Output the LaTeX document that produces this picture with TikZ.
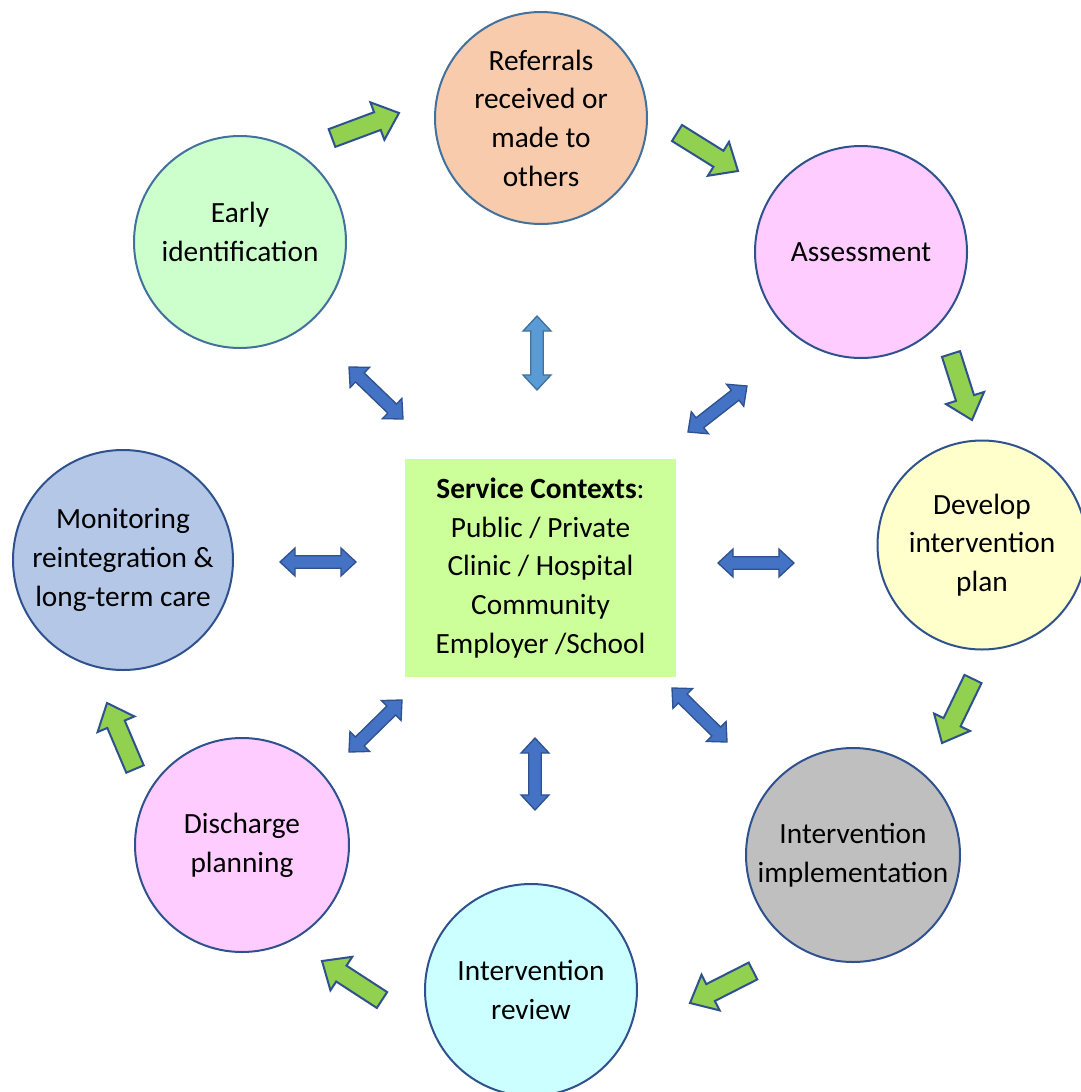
\documentclass[tikz,border=0pt]{standalone}
\usepackage{fontspec}
\setmainfont{Carlito}
\usetikzlibrary{calc}
\definecolor{cgreen}{HTML}{CCFFCC}
\definecolor{cpeach}{HTML}{F8CBAD}
\definecolor{cpink}{HTML}{FFCCFF}
\definecolor{cyellow}{HTML}{FFFFCC}
\definecolor{cgray}{HTML}{BFBFBF}
\definecolor{ccyan}{HTML}{CCFFFF}
\definecolor{cblue}{HTML}{B4C7E7}
\definecolor{cbox}{HTML}{CCFF99}
\definecolor{darkline}{HTML}{2F528F}
\definecolor{midline}{HTML}{41719C}
\definecolor{arrgreen}{HTML}{92D050}
\definecolor{arrblue}{HTML}{4472C4}
\definecolor{arrlight}{HTML}{5B9BD5}
\newcommand\blockone[6]{%
  \coordinate (bh) at ($(#3)!#6!(#2)$);
  \draw[#1] ($(#2)!#4!90:(#3)$) -- ($(bh)!#4!-90:(#2)$) -- ($(bh)!#5!-90:(#2)$) -- (#3)
    -- ($(bh)!#5!90:(#2)$) -- ($(bh)!#4!90:(#2)$) -- ($(#2)!#4!-90:(#3)$) -- cycle;}
\newcommand\blocktwo[6]{%
  \coordinate (ba) at ($(#2)!#6!(#3)$);
  \coordinate (bb) at ($(#3)!#6!(#2)$);
  \draw[#1] (#2) -- ($(ba)!#5!90:(#3)$) -- ($(ba)!#4!90:(#3)$) -- ($(bb)!#4!-90:(#2)$)
    -- ($(bb)!#5!-90:(#2)$) -- (#3) -- ($(bb)!#5!90:(#2)$) -- ($(bb)!#4!90:(#2)$)
    -- ($(ba)!#4!-90:(#3)$) -- ($(ba)!#5!-90:(#3)$) -- cycle;}
\newcommand\garrow[2]{\blockone{greenarr}{#1}{#2}{7.1pt}{15pt}{17.3pt}}
\newcommand\barrow[2]{\blocktwo{bluearr}{#1}{#2}{4.7pt}{10.5pt}{11.3pt}}
\begin{document}
\begin{tikzpicture}[x=0.75pt,y=-0.75pt,
  stage/.style={circle,draw=darkline,line width=1.5pt,minimum size=#1*1.5pt,inner sep=0pt,align=center,
    font=\fontsize{22}{29}\selectfont},
  ctx/.style={fill=cbox,minimum width=203pt,minimum height=163.5pt,align=center,
    font=\fontsize{22}{29}\selectfont},
  greenarr/.style={fill=arrgreen,draw=darkline,line width=1.5pt,line join=miter},
  bluearr/.style={fill=arrblue,draw=darkline,line width=1pt,line join=miter},
  lightarr/.style={fill=arrlight,draw=midline,line width=1pt,line join=miter}]
\useasboundingbox[fill=white] (0,0) rectangle (1081,1092);
\node[stage=106,fill=cgreen,draw=midline] (early) at (240,242) {Early\\identification\\[-14pt]\mbox{}};
\node[stage=106,fill=cpeach,draw=midline] (ref) at (541,118) {Referrals\\received or\\made to\\others};
\node[stage=106,fill=cpink] (assess) at (861,252) {Assessment};
\node[stage=104.5,fill=cyellow] (plan) at (982,545) {Develop\\intervention\\plan};
\node[stage=107,fill=cgray] (impl) at (853,855) {Intervention\\implementation};
\node[stage=106,fill=ccyan] (review) at (531,990) {Intervention\\review};
\node[stage=107,fill=cpink] (disch) at (242,845) {Discharge\\planning};
\node[stage=110,fill=cblue] (monit) at (123,560) {Monitoring\\reintegration \&\\long-term care};
\node[ctx] (ctxbox) at (540.5,568) {\textbf{Service Contexts}:\\Public / Private\\Clinic / Hospital\\Community\\Employer /School};
% green arrow ends
\coordinate (g1a) at (332,138); \coordinate (g1b) at (399,113);
\coordinate (g2a) at (677,133); \coordinate (g2b) at (738,171);
\coordinate (g3a) at (951,354); \coordinate (g3b) at (972,420);
\coordinate (g4a) at (973,679); \coordinate (g4b) at (942,743);
\coordinate (g5a) at (753,971); \coordinate (g5b) at (690,1003);
\coordinate (g6a) at (382,1000); \coordinate (g6b) at (322,961);
\coordinate (g7a) at (135,769); \coordinate (g7b) at (107,703);
\garrow{g1a}{g1b}
\garrow{g2a}{g2b}
\garrow{g3a}{g3b}
\garrow{g4a}{g4b}
\garrow{g5a}{g5b}
\garrow{g6a}{g6b}
\garrow{g7a}{g7b}
% blue double arrows
\coordinate (b1a) at (537,316); \coordinate (b1b) at (537,390);
\coordinate (b2a) at (349,367); \coordinate (b2b) at (403,419);
\coordinate (b3a) at (688,432); \coordinate (b3b) at (747,386);
\coordinate (b4a) at (280,562); \coordinate (b4b) at (356,562);
\coordinate (b5a) at (718,563); \coordinate (b5b) at (794,563);
\coordinate (b6a) at (349,752); \coordinate (b6b) at (402,700);
\coordinate (b7a) at (535,738); \coordinate (b7b) at (535,810);
\coordinate (b8a) at (672,688); \coordinate (b8b) at (727,742);
\blocktwo{lightarr}{b1a}{b1b}{4.7pt}{10.5pt}{11.3pt}
\barrow{b2a}{b2b}
\barrow{b3a}{b3b}
\barrow{b4a}{b4b}
\barrow{b5a}{b5b}
\barrow{b6a}{b6b}
\barrow{b7a}{b7b}
\barrow{b8a}{b8b}
\end{tikzpicture}
\end{document}
